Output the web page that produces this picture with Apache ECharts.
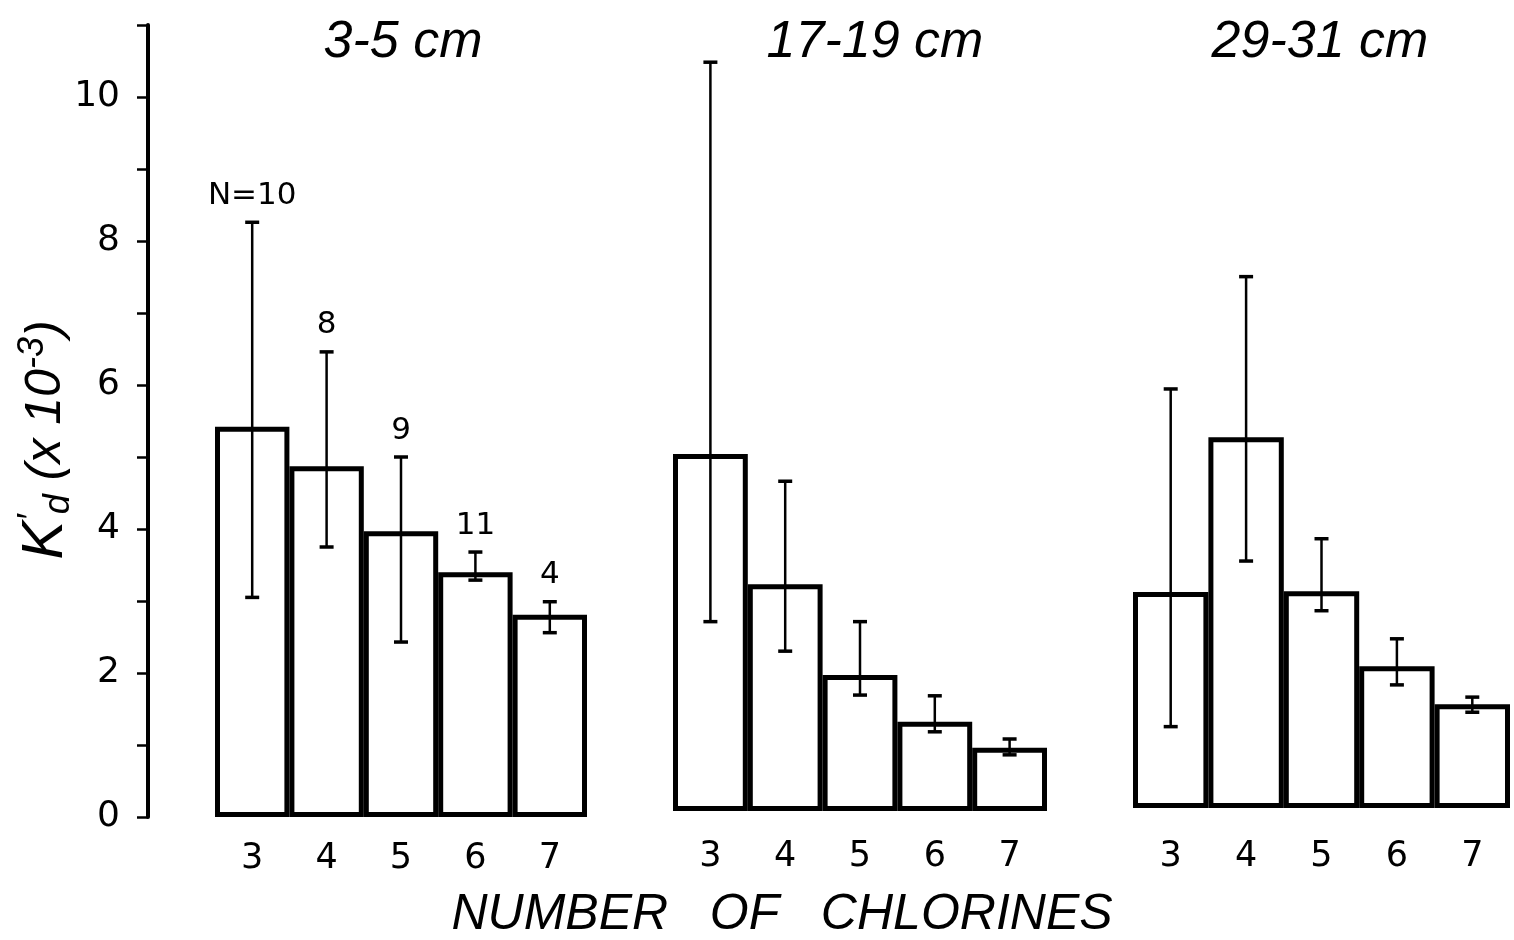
<!DOCTYPE html>
<html lang="en">
<head>
    <meta charset="UTF-8">
    <title>Kd by number of chlorines</title>
    <style>
        html, body { margin: 0; padding: 0; background: #fff; }
        #main { width: 1514px; height: 940px; }
    </style>
    <script src="https://cdn.jsdelivr.net/npm/echarts@6/dist/echarts.min.js"></script>
</head>
<body>
<div id="main"></div>
<script>
var chlorines = ['3', '4', '5', '6', '7'];
var depths = ['3-5 cm', '17-19 cm', '29-31 cm'];

// bar heights (K'd x 10^-3)
var mean1 = [5.42, 4.87, 3.97, 3.40, 2.81];
var mean2 = [4.96, 3.15, 1.89, 1.24, 0.88];
var mean3 = [3.00, 5.15, 3.01, 1.97, 1.44];

// error bar ends
var low1 = [3.05, 3.75, 2.43, 3.29, 2.56];
var high1 = [8.26, 6.46, 5.00, 3.68, 2.99];
var low2 = [2.63, 2.22, 1.61, 1.10, 0.78];
var high2 = [10.40, 4.58, 2.63, 1.60, 1.00];
var low3 = [1.13, 3.43, 2.74, 1.71, 1.33];
var high3 = [5.82, 7.38, 3.74, 2.35, 1.54];

// sample sizes written above the first panel
var nLabels = ['N=10', '8', '9', '11', '4'];

var numFont = "'DejaVu Sans', sans-serif";
var handFont = "'Liberation Sans Narrow', 'Liberation Sans', sans-serif";

var chart = echarts.init(document.getElementById('main'));

function errData(low, high) {
    var res = [];
    for (var i = 0; i < low.length; i++) {
        res.push([i, low[i], high[i]]);
    }
    return res;
}

function errorBar(params, api) {
    var lo = api.coord([api.value(0), api.value(1)]);
    var hi = api.coord([api.value(0), api.value(2)]);
    var cap = 7;
    var kids = [
        { type: 'line', shape: { x1: lo[0], y1: lo[1], x2: hi[0], y2: hi[1] }, style: { stroke: '#000', lineWidth: 2.5 } },
        { type: 'line', shape: { x1: lo[0] - cap, y1: lo[1], x2: lo[0] + cap, y2: lo[1] }, style: { stroke: '#000', lineWidth: 3.5 } },
        { type: 'line', shape: { x1: hi[0] - cap, y1: hi[1], x2: hi[0] + cap, y2: hi[1] }, style: { stroke: '#000', lineWidth: 3.5 } }
    ];
    if (params.seriesIndex === 3) {
        kids.push({
            type: 'text',
            style: {
                text: nLabels[params.dataIndex],
                x: hi[0], y: hi[1] - 11,
                align: 'center', verticalAlign: 'bottom',
                font: '31px ' + numFont, fill: '#000'
            }
        });
    }
    return { type: 'group', children: kids };
}

var grids = [
    { left: 215, width: 372, top: 25, height: 792 },
    { left: 673, width: 374, top: 19, height: 792 },
    { left: 1133, width: 377, top: 16, height: 792 }
];

var xAxes = [], yAxes = [];
for (var g = 0; g < 3; g++) {
    xAxes.push({
        type: 'category', gridIndex: g, data: chlorines,
        axisLine: { show: false }, axisTick: { show: false },
        axisLabel: { color: '#000', fontSize: 35, fontFamily: numFont, margin: 24 + (g === 0 ? 0 : (g === 1 ? 4 : 7)) }
    });
    yAxes.push({
        type: 'value', gridIndex: g, min: 0, max: 11, interval: 1,
        show: g === 0,
        offset: 67,
        splitLine: { show: false },
        axisLine: { show: true, lineStyle: { color: '#000', width: 4 } },
        axisTick: { show: true, inside: false, length: 11, lineStyle: { color: '#000', width: 2.5 } },
        axisLabel: {
            color: '#000', fontSize: 36, fontFamily: numFont, margin: 28,
            formatter: function (v) { return (v % 2 === 0 && v <= 10) ? String(v) : ''; }
        }
    });
}

var means = [mean1, mean2, mean3];
var lows = [low1, low2, low3];
var highs = [high1, high2, high3];
var series = [];
for (var s = 0; s < 3; s++) {
    series.push({
        type: 'bar', xAxisIndex: s, yAxisIndex: s, data: means[s],
        barCategoryGap: '0%', silent: true,
        itemStyle: { color: '#fff', borderColor: '#000', borderWidth: 5 }
    });
}
for (var e = 0; e < 3; e++) {
    series.push({
        type: 'custom', xAxisIndex: e, yAxisIndex: e,
        data: errData(lows[e], highs[e]), renderItem: errorBar, silent: true, z: 5
    });
}

var titleX = [398, 870, 1315];
var titles = [];
for (var t = 0; t < 3; t++) {
    titles.push({
        text: depths[t], left: titleX[t], top: 12, textAlign: 'center',
        textStyle: { fontSize: 52, fontStyle: 'italic', fontWeight: 'normal', fontFamily: handFont, color: '#000' }
    });
}

var option = {
    backgroundColor: '#fff',
    animation: false,
    title: titles,
    grid: grids,
    xAxis: xAxes,
    yAxis: yAxes,
    series: series,
    graphic: [
        {
            type: 'text', x: 782, y: 890,
            style: {
                text: 'NUMBER   OF   CHLORINES',
                font: 'italic 50px ' + handFont, fill: '#000', align: 'center'
            }
        },
        {
            type: 'text', x: 46, y: 440, rotation: Math.PI / 2,
            style: {
                text: '{k|K}{sup|\u2032}{sub|d}{p| (x 10}{sup|-3}{p|)}',
                align: 'center', verticalAlign: 'middle',
                rich: {
                    k: { font: 'italic 58px ' + handFont, fill: '#000' },
                    p: { font: 'italic 50px ' + handFont, fill: '#000' },
                    sup: { font: 'italic 36px ' + handFont, fill: '#000', verticalAlign: 'top', padding: [0, 0, 26, 0] },
                    sub: { font: 'italic 36px ' + handFont, fill: '#000', verticalAlign: 'bottom', padding: [16, 0, 0, 0] }
                }
            }
        }
    ]
};
chart.setOption(option);
</script>
</body>
</html>
